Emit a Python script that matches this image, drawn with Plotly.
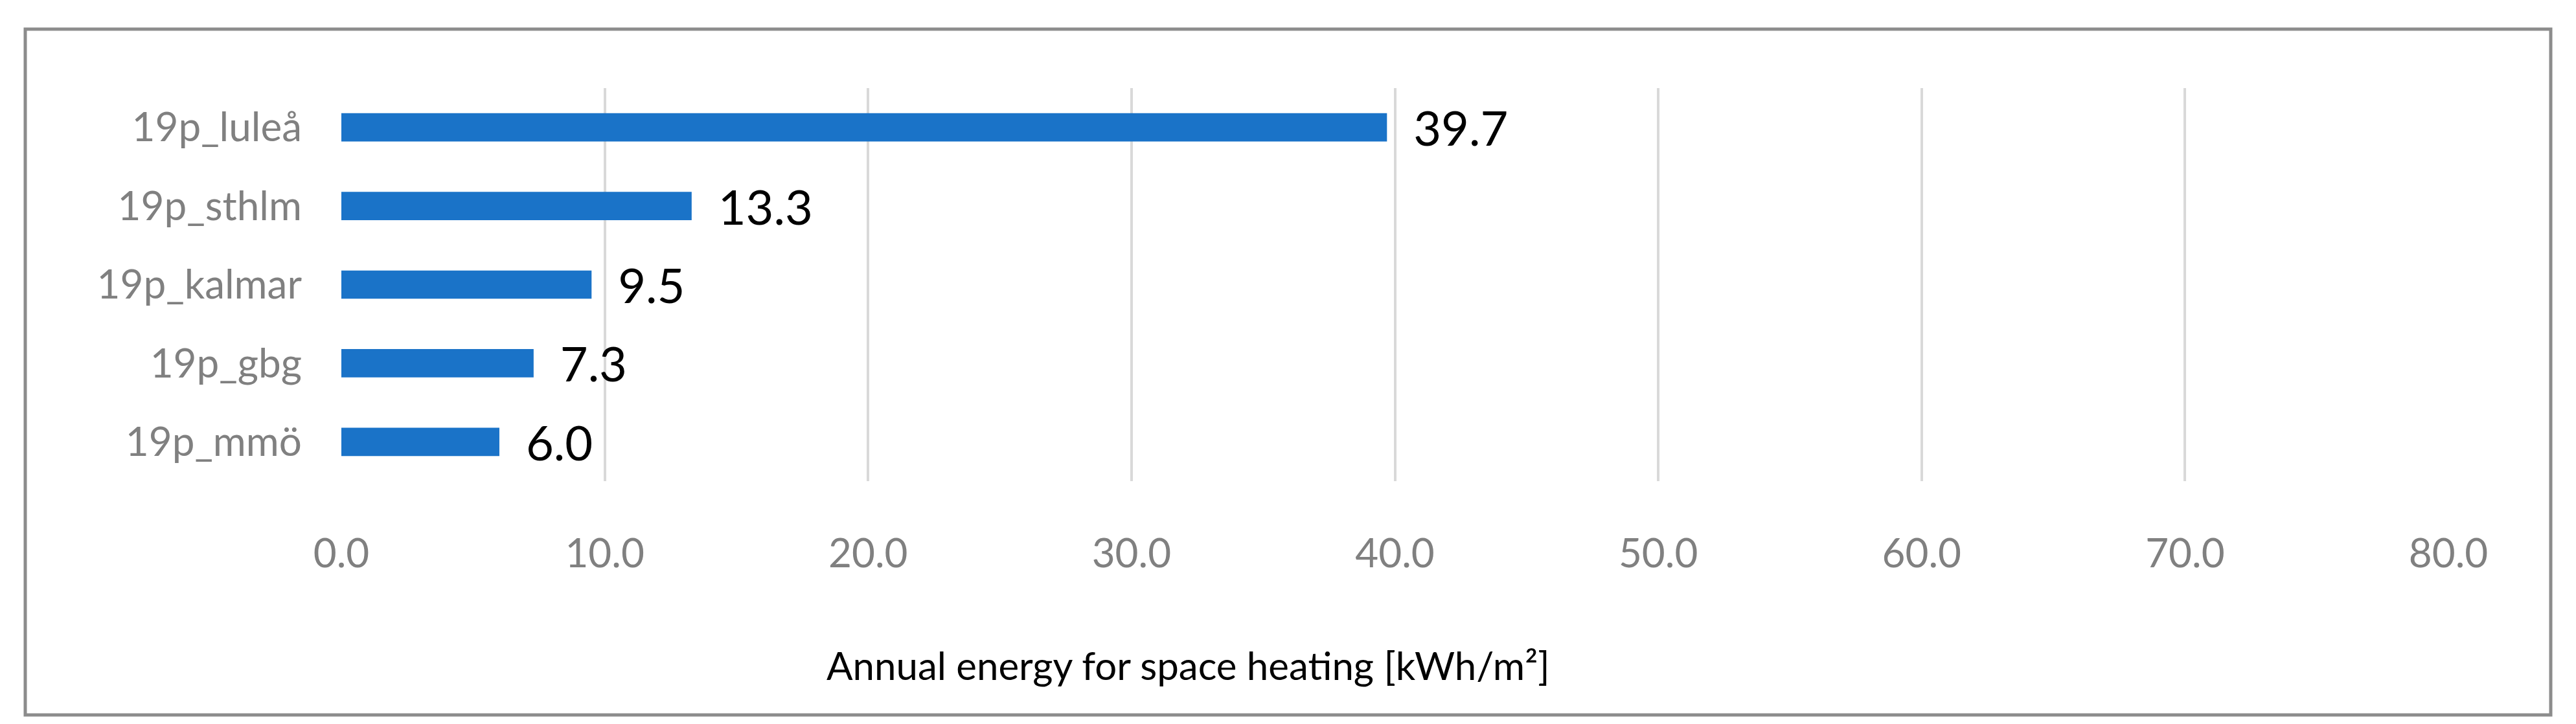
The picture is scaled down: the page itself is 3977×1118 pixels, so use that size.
import plotly.graph_objects as go

categories = ["19p_mmö", "19p_gbg", "19p_kalmar", "19p_sthlm", "19p_luleå"]
values = [6.0, 7.3, 9.5, 13.3, 39.7]
x_ticks = [0, 10, 20, 30, 40, 50, 60, 70, 80]
x_title = "Annual energy for space heating [kWh/m²]"

W, H = 3977, 1118
L, R, T, B = 519, 205, 128, 383
pw, ph = W - L - R, H - T - B

def px(x):
    return (x - L) / pw

def py(y):
    return (H - B - y) / ph

fig = go.Figure(go.Bar(
    y=categories, x=values, orientation="h",
    marker=dict(color="#1a73c8", line=dict(width=0)),
    width=0.36,
    texttemplate="  %{x:.1f}", textposition="outside", constraintext="none",
    textfont=dict(size=74, color="black", family="Lato"),
    cliponaxis=False,
))

fig.update_layout(
    width=W, height=H, margin=dict(l=L, r=R, t=T, b=B),
    paper_bgcolor="white", plot_bgcolor="white", showlegend=False,
    font=dict(family="Lato", color="#808080"),
    xaxis=dict(range=[0, 80], tickvals=x_ticks, tickformat=".1f",
               showgrid=True, gridcolor="#d9d9d9", gridwidth=4,
               zeroline=False, showline=False, ticks="",
               tickfont=dict(size=62, color="#808080"), ticklabelstandoff=70),
    yaxis=dict(showgrid=False, zeroline=False, showline=False, ticks="",
               tickfont=dict(size=62, color="#808080"), ticklabelstandoff=60),
    shapes=[dict(type="rect", xref="paper", yref="paper",
                 x0=px(31), x1=px(3930), y0=py(1096), y1=py(37),
                 line=dict(color="#8c8c8c", width=5), fillcolor="rgba(0,0,0,0)", layer="below")],
    annotations=[dict(text=x_title, xref="paper", yref="paper",
                      x=px(1826), y=py(1019), showarrow=False,
                      xanchor="center", yanchor="middle",
                      font=dict(size=60, color="black", family="Lato"))],
)

fig.write_html("out.html")
